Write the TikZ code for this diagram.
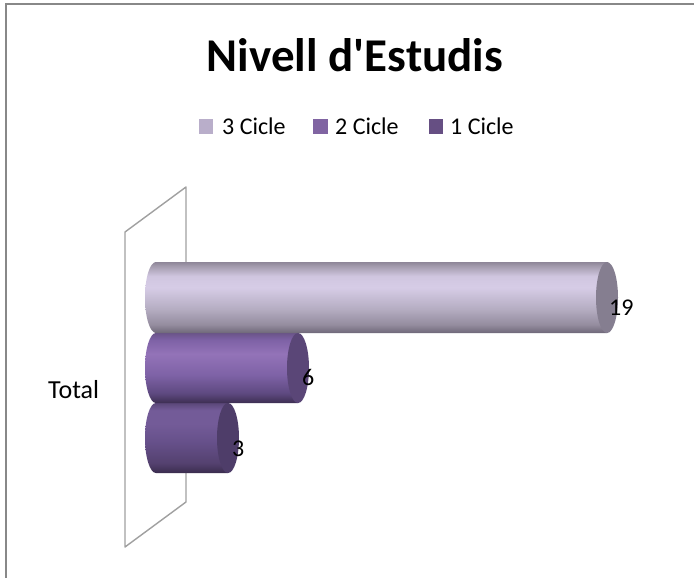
\documentclass[tikz,border=0pt]{standalone}
\usepackage{fontspec}
\newfontfamily\carl{Carlito}
\definecolor{framec}{HTML}{888888}
\definecolor{wallc}{HTML}{A0A0A0}
\definecolor{leg3}{HTML}{B9AECA}
\definecolor{leg2}{HTML}{8064A2}
\definecolor{leg1}{HTML}{664F83}
\definecolor{capA}{HTML}{857E90}
\definecolor{capB}{HTML}{5A4677}
\definecolor{capC}{HTML}{4E3D69}
% bar A (3 Cicle) gradient stops
\definecolor{aBot}{HTML}{6F6879}
\definecolor{aLow}{HTML}{958D9F}
\definecolor{aMid}{HTML}{B5ADC2}
\definecolor{aHi}{HTML}{D6CCE6}
\definecolor{aHi2}{HTML}{D0C6E0}
\definecolor{aUp}{HTML}{A49CAE}
\definecolor{aTop}{HTML}{8E8698}
% bar B (2 Cicle)
\definecolor{bBot}{HTML}{3D2E52}
\definecolor{bLow}{HTML}{5E4980}
\definecolor{bMid}{HTML}{7E62A6}
\definecolor{bHi}{HTML}{9373B8}
\definecolor{bTop}{HTML}{6A5489}
% bar C (1 Cicle)
\definecolor{cBot}{HTML}{3A2C4E}
\definecolor{cLow}{HTML}{54416F}
\definecolor{cMid}{HTML}{66508A}
\definecolor{cHi}{HTML}{735B98}
\definecolor{cTop}{HTML}{5A4778}
\pgfdeclareverticalshading{shA}{100bp}{color(0bp)=(aBot); color(25bp)=(aBot); color(31bp)=(aLow); color(42bp)=(aMid); color(57bp)=(aHi); color(65bp)=(aHi2); color(72bp)=(aUp); color(75bp)=(aTop); color(100bp)=(aTop)}
\pgfdeclareverticalshading{shB}{100bp}{color(0bp)=(bBot); color(25bp)=(bBot); color(32bp)=(bLow); color(45bp)=(bMid); color(60bp)=(bHi); color(70bp)=(bMid); color(75bp)=(bTop); color(100bp)=(bTop)}
\pgfdeclareverticalshading{shC}{100bp}{color(0bp)=(cBot); color(25bp)=(cBot); color(32bp)=(cLow); color(47bp)=(cMid); color(60bp)=(cHi); color(70bp)=(cHi); color(75bp)=(cTop); color(100bp)=(cTop)}
\newcommand{\mycyl}[5]{%
  \shade[shading=#4] (156,#2) -- (#1,#2) -- (#1,#3) -- (156,#3)
     arc[start angle=90, end angle=270, x radius=11, y radius={(#3-#2)/2}] -- cycle;
  \fill[#5] (#1,{(#2+#3)/2}) ellipse [x radius=11, y radius={(#3-#2)/2}];
}
\tikzset{
  wall/.style={draw=wallc, line width=1.4pt},
  lbl/.style={font=\carl\fontsize{24}{28}\selectfont, inner sep=0pt, anchor=base west},
  legtxt/.style={font=\carl\fontsize{24}{28}\selectfont, inner sep=0pt, anchor=base west},
}
\begin{document}
\begin{tikzpicture}[x=1pt,y=-1pt]
\useasboundingbox (0,0) rectangle (694,578);
\fill[white] (0,0) rectangle (694,578);
\draw[framec, line width=2pt] (6,578) -- (6,4) -- (694,4);
% title
\node[font=\carl\bfseries\fontsize{47}{52}\selectfont, inner sep=0pt, anchor=base] (title) at (355,72) {Nivell d'Estudis};
% legend
\fill[leg3] (199,119) rectangle (213,134);
\node[legtxt] (l3) at (222,134) {3 Cicle};
\fill[leg2] (313,119) rectangle (328,134);
\node[legtxt] (l2) at (335,134) {2 Cicle};
\fill[leg1] (429,119) rectangle (443,134);
\node[legtxt] (l1) at (450,134) {1 Cicle};
% wall
\draw[wall, line join=round] (125,547) -- (125,232) -- (186,187) -- (186,502) -- cycle;
% bars
\mycyl{228}{403}{473}{shC}{capC}
\mycyl{298}{333}{403}{shB}{capB}
\mycyl{607}{262}{333}{shA}{capA}
% labels
\node[lbl] (v19) at (609,315) {19};
\node[lbl] (v6) at (302,385) {6};
\node[lbl] (v3) at (232,456) {3};
\node[font=\carl\fontsize{26}{30}\selectfont, inner sep=0pt, anchor=base west] (total) at (48,398) {Total};
\end{tikzpicture}
\end{document}
